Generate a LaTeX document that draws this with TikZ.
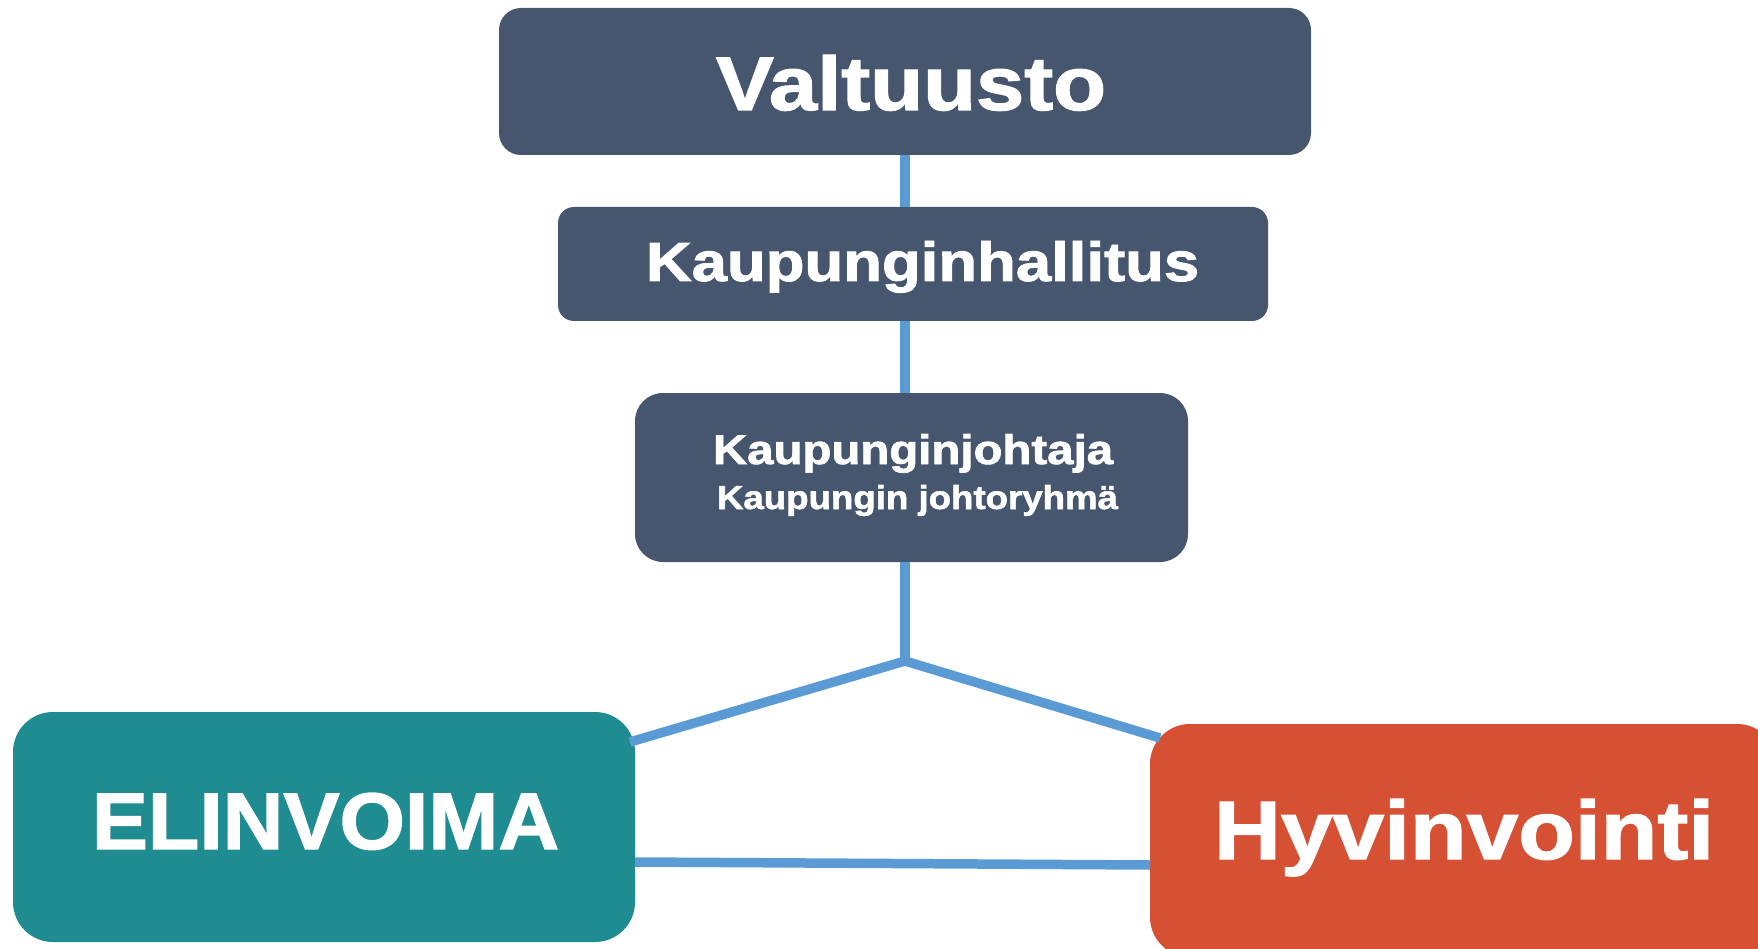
\documentclass[tikz,border=0pt]{standalone}
\usepackage{fontspec}
\setmainfont{Liberation Sans}[BoldFeatures={FakeBold=1.6}]
\usepackage{graphicx}
\definecolor{slate}{RGB}{70,86,110}
\definecolor{tealbox}{RGB}{31,140,146}
\definecolor{orangebox}{RGB}{214,80,52}
\definecolor{linkblue}{RGB}{91,155,213}
\newcommand{\fittext}[3]{\resizebox{#1pt}{#2pt}{\bfseries #3}}
\tikzset{
  boxshape/.style={draw=none, rectangle, inner sep=0pt, outer sep=0pt},
  txt/.style={anchor=base, inner sep=0pt, outer sep=0pt, text=white},
  link/.style={draw=linkblue, line width=9.5pt}
}
\begin{document}
\begin{tikzpicture}[x=1pt,y=-1pt]
\useasboundingbox (0,0) rectangle (1758,949);
\clip (0,0) rectangle (1758,949);
% boxes
\node[boxshape, fill=slate, minimum width=812pt, minimum height=147pt, rounded corners=22pt] (v) at (905,81.5) {};
\node[boxshape, fill=slate, minimum width=710pt, minimum height=114pt, rounded corners=16pt] (kh) at (913,264) {};
\node[boxshape, fill=slate, minimum width=553pt, minimum height=169pt, rounded corners=28pt] (kj) at (911.5,477.5) {};
\node[boxshape, fill=tealbox, minimum width=622pt, minimum height=230pt, rounded corners=40pt] (el) at (324,827) {};
\node[boxshape, fill=orangebox, minimum width=627pt, minimum height=233pt, rounded corners=40pt] (hy) at (1463.5,840.5) {};
% connectors
\coordinate (J) at (905,661);
\coordinate (elj) at (630,742);
\coordinate (hyj) at (1160,738);
\coordinate (elh) at (635,862);
\coordinate (hyh) at (1150,865);
\draw[link] (v.south -| J) -- (kh.north -| J);
\draw[link] (kh.south -| J) -- (kj.north -| J);
\draw[link, line join=miter] (kj.south -| J) -- (J);
\draw[link] (elj) -- (J) -- (hyj);
\draw[link] (elh) -- (hyh);
% texts
\node[txt] (tv) at (911,110) {\fittext{390}{55}{Valtuusto}};
\node[txt] (tkh) at (922.5,281) {\fittext{553}{40}{Kaupunginhallitus}};
\node[txt] (tkj) at (913,464) {\fittext{400}{30}{Kaupunginjohtaja}};
\node[txt] (tkr) at (917.5,509) {\fittext{401}{24}{Kaupungin johtoryhmä}};
\node[txt] (tel) at (325.5,849) {\fittext{467}{56}{ELINVOIMA}};
\node[txt] (thy) at (1464,859) {\fittext{500}{60}{Hyvinvointi}};
\end{tikzpicture}
\end{document}
